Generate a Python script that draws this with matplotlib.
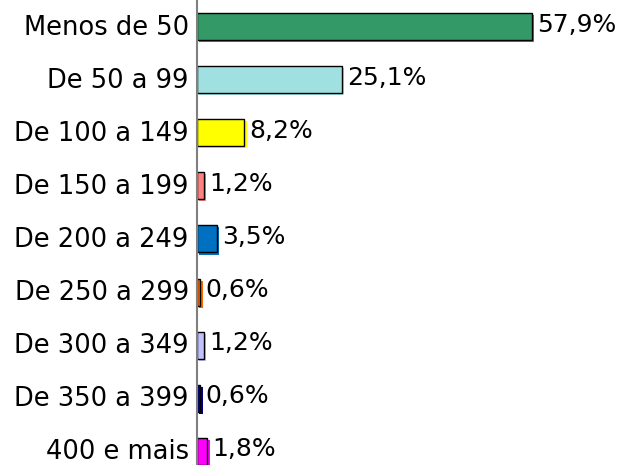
import matplotlib
matplotlib.use("Agg")
import matplotlib.pyplot as plt
import matplotlib.patheffects as pe
import matplotlib.transforms as mtransforms

categorias = ["Menos de 50", "De 50 a 99", "De 100 a 149", "De 150 a 199",
              "De 200 a 249", "De 250 a 299", "De 300 a 349", "De 350 a 399",
              "400 e mais"]
valores = [57.9, 25.1, 8.2, 1.2, 3.5, 0.6, 1.2, 0.6, 1.8]
cores = ["#339966", "#A0E0E0", "#FFFF00", "#FF8080", "#0070C0",
         "#FF6600", "#C0C0FF", "#000080", "#FF00FF"]

plt.rcParams['font.family'] = 'DejaVu Sans'

fig = plt.figure(figsize=(6.19, 4.65), dpi=100)
ax = fig.add_axes([197 / 619, 0, 1 - 197 / 619, 1])

pos = list(range(len(categorias)))
barras = ax.barh(pos, valores, height=0.51, color=cores,
                 edgecolor="black", linewidth=1.0)
# sombra da mesma cor, deslocada para baixo e para a direita
for b, c in zip(barras, cores):
    b.set_path_effects([pe.SimplePatchShadow(offset=(1.5, -1.5),
                                             shadow_rgbFace=c, alpha=1),
                        pe.Normal()])

for p, v in zip(pos, valores):
    ax.annotate(f"{v:.1f}%".replace(".", ","), xy=(v, p), xytext=(5, 2),
                textcoords="offset pixels", va="center", ha="left",
                fontsize=18)

ax.set_xlim(0, 72.9)
ax.set_ylim(8.257, -0.5)
ax.set_yticks(pos)
ax.set_yticklabels(categorias, fontsize=18.5)
ax.tick_params(axis="y", length=0, pad=6)
sobe = mtransforms.ScaledTranslation(0, 2 / 100, fig.dpi_scale_trans)
for t in ax.get_yticklabels():
    t.set_transform(t.get_transform() + sobe)
ax.set_xticks([])
for s in ["top", "right", "bottom"]:
    ax.spines[s].set_visible(False)
ax.spines["left"].set_color("#808080")
ax.spines["left"].set_linewidth(1.5)

fig.savefig("out.png", dpi=100)
